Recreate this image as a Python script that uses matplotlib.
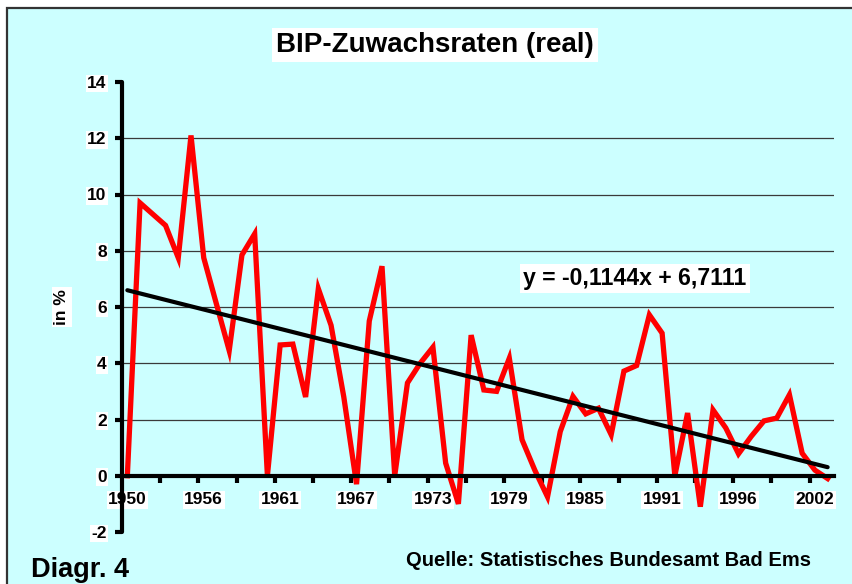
import matplotlib
matplotlib.use("Agg")
import matplotlib.pyplot as plt
from matplotlib.patches import Rectangle
import numpy as np

# ---- data ----
years = (list(range(1950, 1961)) + [1960] + list(range(1961, 1992)) + [1991]
         + list(range(1992, 2004)))
growth = [0.0, 9.7, 9.3, 8.9, 7.75, 12.1, 7.75, 6.1, 4.45, 7.85, 8.6,
          0.0, 4.65, 4.68, 2.8, 6.65, 5.35, 2.8, -0.3, 5.5, 7.45,
          0.0, 3.3, 4.0, 4.57, 0.45, -1.0, 5.0, 3.05, 3.0, 4.18,
          1.28, 0.2, -0.75, 1.57, 2.82, 2.2, 2.4, 1.46, 3.72, 3.92,
          5.72, 5.07, 0.0, 2.23, -1.1, 2.34, 1.7, 0.78, 1.4, 1.95,
          2.05, 2.88, 0.8, 0.2, -0.1]
slope, intercept = -0.1144, 6.7111
label_every = 6
yticks = list(range(-2, 15, 2))

W, H = 852, 584
fig = plt.figure(figsize=(W / 100, H / 100), dpi=100)
fig.patch.set_facecolor("white")
bg = "#CCFFFF"
fig.patches.append(Rectangle((7 / W, -0.05), 1.1, 1 - 8 / H + 0.05,
                             transform=fig.transFigure, facecolor=bg,
                             edgecolor="#333333", linewidth=1.6, zorder=-5))

ax = fig.add_axes([122 / W, 1 - 532 / H, (834 - 122) / W, (532 - 82) / H])
ax.set_facecolor("none")
ax.set_zorder(2)

FONT = "Liberation Sans"
x = np.arange(len(growth))
ax.plot(x, growth, color="#FF0000", lw=3.8, solid_joinstyle="miter", zorder=3)
xt = np.array([0, len(growth) - 1])
ax.plot(xt, slope * (xt + 1) + intercept, color="black", lw=3.0,
        solid_capstyle="round", zorder=4)

ax.set_ylim(-2, 14)
x0 = -0.42
ax.set_xlim(x0, len(growth) - 0.5)
for v in yticks:
    if v not in (0, 14, -2):
        ax.axhline(v, color="#3a3a3a", lw=0.9, zorder=1)

# spines
for s in ["top", "right"]:
    ax.spines[s].set_visible(False)
ax.spines["left"].set_linewidth(3.0)
ax.spines["left"].set_bounds(-2, 14)
ax.spines["left"].set_capstyle("round")
ax.spines["bottom"].set_position(("data", 0))
ax.spines["bottom"].set_linewidth(3.0)
ax.spines["bottom"].set_zorder(5)

ax.set_yticks(yticks)
ax.set_yticklabels([str(v) for v in yticks], fontfamily=FONT,
                   fontweight="bold", fontsize=12.5)
ax.tick_params(axis="y", direction="out", length=5, width=3, pad=6)

lab_pos = list(range(0, len(growth), label_every))
ax.set_xticks(lab_pos)
ax.set_xticklabels([str(years[i]) for i in lab_pos], fontfamily=FONT,
                   fontweight="bold", fontsize=12.5)
ax.tick_params(axis="x", which="major", length=0, pad=12)
ax.set_xticks(np.arange(x0 + 3, len(growth), 3), minor=True)
ax.tick_params(axis="x", which="minor", direction="out", length=5, width=3)

for lbl in ax.get_xticklabels() + ax.get_yticklabels():
    lbl.set_bbox(dict(facecolor="white", edgecolor="none", pad=1.0))

# texts
fig.text(435 / W, 1 - 52 / H, "BIP-Zuwachsraten (real)", ha="center",
         va="baseline", fontfamily=FONT, fontweight="bold", fontsize=20,
         bbox=dict(facecolor="white", edgecolor="none", pad=3))
fig.text(62 / W, 1 - 307 / H, "in %", ha="center", va="center", rotation=90,
         fontfamily=FONT, fontweight="bold", fontsize=12.5,
         bbox=dict(facecolor="white", edgecolor="none", pad=1.5))
fig.text(635 / W, 1 - 285 / H, "y = -0,1144x + 6,7111", ha="center",
         va="baseline", fontfamily=FONT, fontweight="bold", fontsize=16.6,
         bbox=dict(facecolor="white", edgecolor="none", pad=2.5))
fig.text(609 / W, 1 - 565.5 / H, "Quelle: Statistisches Bundesamt Bad Ems",
         ha="center", va="baseline", fontfamily=FONT, fontweight="bold",
         fontsize=14.5)
fig.text(31 / W, 1 - 577 / H, "Diagr. 4", ha="left", va="baseline",
         fontfamily=FONT, fontweight="bold", fontsize=19.5)

fig.savefig("out.png", dpi=100, facecolor=fig.get_facecolor())
